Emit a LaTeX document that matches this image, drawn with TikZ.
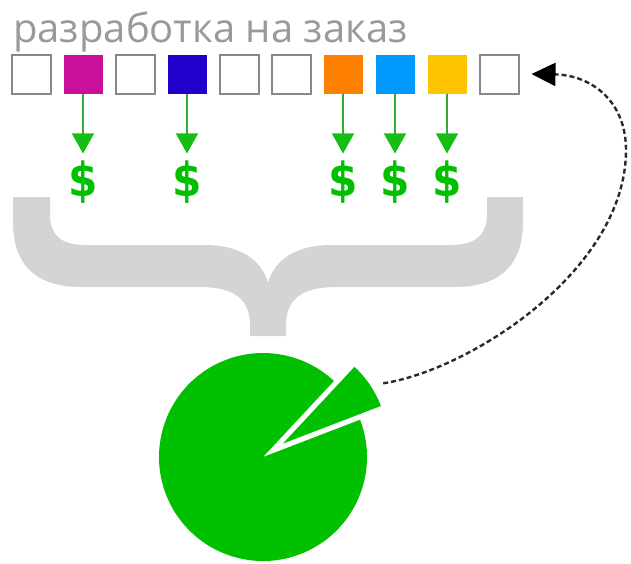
\documentclass[tikz,border=0pt]{standalone}
\usepackage{fontspec}
\setmainfont{Open Sans}
\newfontfamily\dollarfont{DejaVu Sans}
\usetikzlibrary{arrows.meta,calc}
\definecolor{titlegray}{HTML}{999999}
\definecolor{boxgray}{HTML}{888888}
\definecolor{bracegray}{HTML}{D4D4D4}
\definecolor{pgreen}{HTML}{00C000}
\definecolor{lgreen}{HTML}{33A833}
\definecolor{hgreen}{HTML}{14BE14}
\definecolor{cmag}{HTML}{C8109A}
\definecolor{cblue}{HTML}{2200CC}
\definecolor{corange}{HTML}{FF8000}
\definecolor{csky}{HTML}{0099FF}
\definecolor{cgold}{HTML}{FFC400}
\definecolor{dashgray}{HTML}{2A2A2A}
\tikzset{
  emptybox/.style={draw=boxgray, line width=2pt, fill=white, minimum size=39pt, inner sep=0pt},
  colbox/.style={fill=#1, minimum size=39pt, inner sep=0pt},
  dollar/.style={text=pgreen, font=\dollarfont\bfseries\fontsize{47}{47}\selectfont, inner sep=0pt, xscale=0.9},
  garrow/.style={draw=lgreen, line width=1.5pt, -{Triangle[length=20pt,width=22pt,fill=hgreen,color=hgreen]}, shorten >=7pt},
  backarrow/.style={draw=dashgray, line width=2.4pt, dash pattern=on 5pt off 3pt, -{Triangle[length=24pt,width=23pt,fill=black,color=black]}}
}
\begin{document}
\begin{tikzpicture}[x=1pt,y=-1pt]
\useasboundingbox (0,0) rectangle (631,563);
% title
\node[anchor=base west, inner sep=0pt, text=titlegray, font=\fontsize{40}{40}\selectfont] (title) at (13,42) {разработка на заказ};
% boxes
\node[emptybox] (s1) at (31,74) {};
\node[colbox=cmag] (s2) at (83,74) {};
\node[emptybox] (s3) at (135,74) {};
\node[colbox=cblue] (s4) at (187,74) {};
\node[emptybox] (s5) at (239,74) {};
\node[emptybox] (s6) at (291,74) {};
\node[colbox=corange] (s7) at (343,74) {};
\node[colbox=csky] (s8) at (395,74) {};
\node[colbox=cgold] (s9) at (447,74) {};
\node[emptybox] (s10) at (499,74) {};
% dollars
\node[dollar] (d2) at (83,182) {\$};
\node[dollar] (d4) at (187,182) {\$};
\node[dollar] (d7) at (343,182) {\$};
\node[dollar] (d8) at (395,182) {\$};
\node[dollar] (d9) at (447,182) {\$};
\foreach \i in {2,4,7,8,9}{
  \draw[garrow] (s\i.south) -- (d\i.north);
}
% brace
\fill[bracegray] (13,197) -- (50,197) -- (50,214)
  .. controls (50,236) and (62,245) .. (85,245) -- (205,245)
  .. controls (240,245) and (262,260) .. (268,283)
  .. controls (274,260) and (296,245) .. (331,245) -- (451,245)
  .. controls (474,245) and (487,236) .. (487,214) -- (487,197) -- (523,197) -- (523,222)
  .. controls (523,265) and (500,287) .. (455,287) -- (336,287)
  .. controls (301,287) and (286,300) .. (286,325) -- (286,336) -- (250,336) -- (250,325)
  .. controls (250,300) and (235,287) .. (200,287) -- (81,287)
  .. controls (36,287) and (13,265) .. (13,222) -- cycle;
% pie
\coordinate (pc) at (263,457);
\coordinate (wc) at ($(pc)+(-34:24)$);
\fill[pgreen] (pc) -- ++(-21:104) arc[start angle=-21, end angle=313, radius=104] -- cycle;
\fill[pgreen] (wc) -- ++(-21:105) arc[start angle=-21, end angle=-47, radius=105] -- cycle;
\coordinate (wtip) at ($(wc)+(-31:117)$);
\coordinate (turn) at (626,150);
% back arrow
\draw[backarrow] (wtip) .. controls (470,370) and (626,270) .. (turn)
  .. controls (626,100) and (590,75) .. ([xshift=12pt]s10.east);
\end{tikzpicture}
\end{document}
